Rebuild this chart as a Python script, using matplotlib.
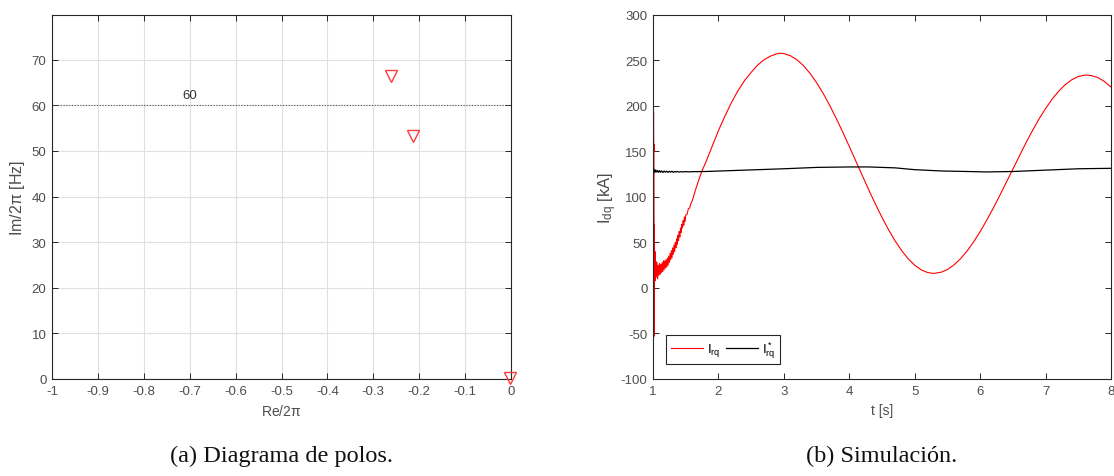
import matplotlib
matplotlib.use("Agg")
import matplotlib.pyplot as plt

plt.rcParams["font.family"] = ["Liberation Sans", "DejaVu Sans"]
plt.rcParams["mathtext.fontset"] = "custom"
plt.rcParams["mathtext.rm"] = "Liberation Sans"
plt.rcParams["mathtext.it"] = "Liberation Sans"
plt.rcParams["axes.unicode_minus"] = False

# ---- pole map data ----
pole_re = [-0.262, -0.213, -0.003]
pole_im = [66.5, 53.2, 0.3]
ref_freq = 60
re_ticks = [-1, -0.9, -0.8, -0.7, -0.6, -0.5, -0.4, -0.3, -0.2, -0.1, 0]
re_tick_labels = ["-1", "-0.9", "-0.8", "-0.7", "-0.6", "-0.5", "-0.4", "-0.3", "-0.2", "-0.1", "0"]
im_ticks = [0, 10, 20, 30, 40, 50, 60, 70]

# ---- simulation data ----
# rotor q-axis current, start-up transient
t_irq_start = [1.000, 1.008, 1.011, 1.014, 1.017, 1.020, 1.025, 1.030, 1.035, 1.040,
               1.050, 1.060, 1.070, 1.080, 1.090, 1.100, 1.110, 1.120, 1.130, 1.140,
               1.150, 1.160, 1.170, 1.180, 1.190, 1.200, 1.210, 1.220, 1.230, 1.240,
               1.250, 1.260, 1.270, 1.280, 1.290, 1.300, 1.310, 1.320, 1.330, 1.340,
               1.350, 1.360, 1.370, 1.380, 1.390, 1.400, 1.410, 1.420, 1.430, 1.440,
               1.450, 1.460, 1.470, 1.480, 1.490, 1.500, 1.520, 1.540, 1.560, 1.580,
               1.600, 1.650, 1.700, 1.750]
i_rq_start = [120, 193, 150, 158, -53, 70, 10, 40, 8, 30,
              12, 28, 10, 25, 14, 27, 15, 26, 17, 28,
              18, 30, 20, 30, 22, 31, 23, 33, 25, 35,
              28, 38, 31, 41, 33, 44, 37, 47, 40, 50,
              44, 54, 48, 58, 52, 62, 56, 66, 61, 70,
              66, 74, 69, 78, 73, 80, 81, 87, 88, 93,
              96, 108, 119, 129]
# rotor q-axis current, slow oscillation
t_irq_osc = [1.8, 1.9, 2.0, 2.1, 2.2, 2.3, 2.4, 2.5, 2.6, 2.7,
             2.8, 2.9, 2.94, 3.0, 3.1, 3.2, 3.3, 3.4, 3.5, 3.6,
             3.7, 3.8, 3.9, 4.0, 4.1, 4.2, 4.3, 4.4, 4.5, 4.6,
             4.7, 4.8, 4.9, 5.0, 5.1, 5.2, 5.29, 5.4, 5.5, 5.6,
             5.7, 5.8, 5.9, 6.0, 6.1, 6.2, 6.3, 6.4, 6.5, 6.6,
             6.7, 6.8, 6.9, 7.0, 7.1, 7.2, 7.3, 7.4, 7.5, 7.6,
             7.63, 7.7, 7.8, 7.9, 8.0]
i_rq_osc = [137, 155, 173, 189, 204, 217, 228, 237, 245, 251,
            255, 257.5, 258, 257.6, 255.2, 250.8, 244.3, 235.8, 225.6, 213.9,
            200.7, 186.4, 171.3, 155.5, 139.4, 123.3, 107.4, 92.1, 77.5, 64.0,
            51.8, 41.1, 32.1, 25.0, 19.9, 16.9, 16.0, 17.2, 20.3, 25.3,
            32.1, 40.6, 50.6, 61.9, 74.4, 87.7, 101.7, 116.2, 130.9, 145.4,
            159.5, 173.0, 185.7, 197.2, 207.5, 216.2, 223.4, 228.8, 232.4, 233.9,
            234.0, 233.4, 231.2, 226.9, 220.8]

# reference current
t_ref = [1.000, 1.004, 1.008, 1.012, 1.020, 1.030, 1.040, 1.055, 1.070, 1.085,
         1.100, 1.115, 1.130, 1.150, 1.170, 1.190, 1.210, 1.230, 1.250, 1.270,
         1.290, 1.310, 1.330, 1.350, 1.375, 1.400, 1.430, 1.460, 1.500, 1.550,
         1.600, 1.800, 2.200, 2.600, 3.000, 3.500, 4.000, 4.300, 4.700, 5.000,
         5.400, 5.800, 6.100, 6.500, 7.000, 7.500, 8.000]
i_rq_ref = [127, 131, 126.5, 130.5, 128.8, 127.2, 129.6, 127.4, 129.2, 127.0,
            128.9, 127.3, 128.6, 126.9, 128.5, 127.2, 128.4, 127.0, 128.2, 127.3,
            128.3, 127.1, 128.0, 127.4, 128.1, 127.3, 127.9, 127.5, 127.9, 127.6,
            127.8, 128, 129, 130, 131, 132.5, 133, 133, 132, 130,
            128.6, 128, 127.5, 128, 129.5, 131, 131.5]

t_ticks = [1, 2, 3, 4, 5, 6, 7, 8]
idq_ticks = [-100, -50, 0, 50, 100, 150, 200, 250, 300]

tick_color = "#4d4d4d"
frame_color = "#262626"

fig = plt.figure(figsize=(11.14, 4.77), dpi=100)


def style_axes(ax):
    for s in ax.spines.values():
        s.set_color(frame_color)
        s.set_linewidth(0.8)
    ax.tick_params(direction="in", length=4, width=0.7, color=frame_color,
                   labelcolor=tick_color, labelsize=9.5,
                   top=True, right=True, pad=4)


# ---- (a) pole diagram ----
ax1 = fig.add_axes([0.0467, 0.2034, 0.4120, 0.7631])
ax1.set_xlim(-1, 0)
ax1.set_ylim(0, 79.8)
ax1.set_xticks(re_ticks)
ax1.set_xticklabels(re_tick_labels)
ax1.set_yticks(im_ticks)
ax1.grid(True, color="#e0e0e0", linewidth=0.8)
ax1.set_axisbelow(True)
ax1.axhline(ref_freq, color="#555555", linestyle=(0, (1, 1.5)), linewidth=0.8)
ax1.axhline(0, color="#555555", linestyle=(0, (1, 1.5)), linewidth=0.8)
ax1.text(-0.7, ref_freq + 0.9, str(ref_freq), ha="center", va="bottom",
         fontsize=9.5, color="#333333")
ax1.plot(pole_re, pole_im, linestyle="none", marker="v", markersize=8,
         markerfacecolor="none", markeredgecolor="#ff3b3b",
         markeredgewidth=1.0, clip_on=False, zorder=5)
style_axes(ax1)
ax1.set_xlabel(r"Re/2$\pi$", fontsize=10, color=tick_color, labelpad=5)
ax1.set_ylabel(r"Im/2$\pi$ [Hz]", fontsize=11.5, color=tick_color, labelpad=3)

# ---- (b) simulation ----
ax2 = fig.add_axes([0.5862, 0.2034, 0.4111, 0.7631])
ax2.plot(t_irq_start + t_irq_osc, i_rq_start + i_rq_osc, color="#ff0000",
         linewidth=0.8, label=r"I$_{rq}$")
ax2.plot(t_ref, i_rq_ref, color="#000000", linewidth=0.9, label=r"I$^*_{rq}$")
ax2.set_xlim(1, 8)
ax2.set_ylim(-100, 300)
ax2.set_xticks(t_ticks)
ax2.set_yticks(idq_ticks)
style_axes(ax2)
ax2.set_xlabel("t [s]", fontsize=10, color=tick_color, labelpad=5)
ax2.set_ylabel(r"I$_{\rm dq}$ [kA]", fontsize=12, color=tick_color, labelpad=1)
leg = ax2.legend(loc="lower left", bbox_to_anchor=(0.029, 0.04),
                 borderaxespad=0, ncol=2, fontsize=9.5, handlelength=2.4,
                 handletextpad=0.3, columnspacing=0.45, fancybox=False,
                 framealpha=1, borderpad=0.35)
leg.get_frame().set_edgecolor(frame_color)
leg.get_frame().set_linewidth(0.8)

# ---- captions ----
fig.text(0.2525, 0.044, "(a) Diagrama de polos.", ha="center", va="center",
         fontsize=17.5, family=["Liberation Serif", "DejaVu Serif"], color="#111111")
fig.text(0.7918, 0.044, "(b) Simulación.", ha="center", va="center",
         fontsize=17.5, family=["Liberation Serif", "DejaVu Serif"], color="#111111")

fig.savefig("out.png", dpi=100)
